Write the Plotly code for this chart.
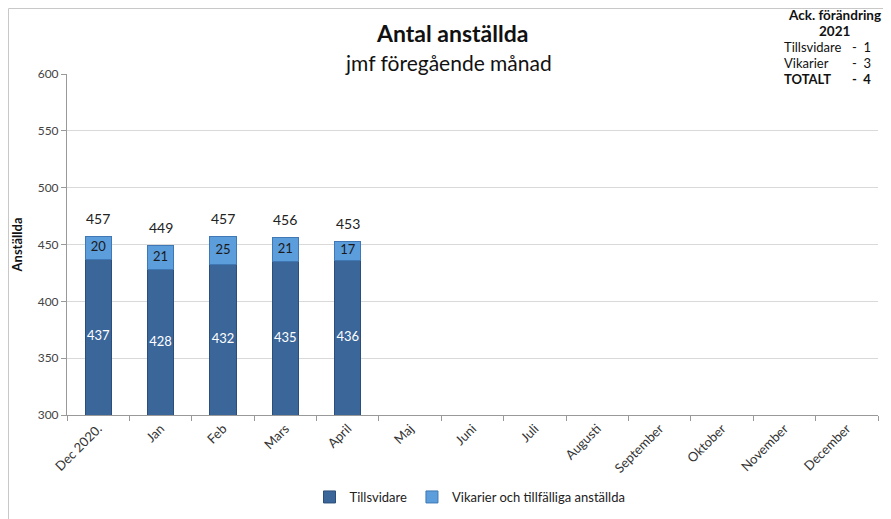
import plotly.graph_objects as go

categories = ["Dec 2020.", "Jan", "Feb", "Mars", "April", "Maj", "Juni", "Juli",
              "Augusti", "September", "Oktober", "November", "December"]
tillsvidare = [437, 428, 432, 435, 436, None, None, None, None, None, None, None, None]
vikarier = [20, 21, 25, 21, 17, None, None, None, None, None, None, None, None]
totals = [457, 449, 457, 456, 453]
y_ticks = [300, 350, 400, 450, 500, 550, 600]

FONT = "Lato, Calibri, 'Open Sans', sans-serif"
DARK = "#3B6699"
LIGHT = "#5C9DDC"

# page has an 8px body margin; lay out in page coordinates
OX, OY = 8, 8
W, H = 891 - OX, 519 - OY
PL, PR, PT, PB = 67, 878, 74, 415          # plot area in page pixels
L, T = PL - OX, PT - OY
R, B = W - (PR - OX), H - (PB - OY)
pw, ph = PR - PL, PB - PT

def px_x(p):
    return (p - PL) / pw

def px_y(p):
    return (PB - p) / ph

fig = go.Figure()
fig.add_trace(go.Bar(x=categories, y=tillsvidare, name="Tillsvidare",
                     marker=dict(color=DARK, line=dict(color="#2B4E7A", width=1)),
                     width=0.42, hoverinfo="skip"))
fig.add_trace(go.Bar(x=categories, y=vikarier, name="Vikarier och tillfälliga anställda",
                     marker=dict(color=LIGHT, line=dict(color="#3F78B5", width=1)),
                     width=0.42, hoverinfo="skip"))

n = len(totals)
ymin = y_ticks[0]
fig.add_trace(go.Scatter(x=categories[:n], y=[(ymin + v) / 2 for v in tillsvidare[:n]],
                         mode="text", text=[str(v) for v in tillsvidare[:n]],
                         textfont=dict(family=FONT, size=13, color="white"),
                         showlegend=False, hoverinfo="skip"))
fig.add_trace(go.Scatter(x=categories[:n], y=[t + v / 2 for t, v in zip(tillsvidare[:n], vikarier[:n])],
                         mode="text", text=[str(v) for v in vikarier[:n]],
                         textfont=dict(family=FONT, size=13, color="#1a1a1a"),
                         showlegend=False, hoverinfo="skip"))
for c, t in zip(categories[:n], totals):
    fig.add_annotation(x=c, y=t, text=str(t), showarrow=False, yshift=18,
                       xanchor="center", yanchor="middle",
                       font=dict(family=FONT, size=14, color="#222"))

def note(x, y, text, size, xanchor="center"):
    fig.add_annotation(xref="paper", yref="paper", x=px_x(x), y=px_y(y), text=text,
                       xanchor=xanchor, yanchor="middle", showarrow=False,
                       font=dict(family=FONT, size=size, color="#111"))

note(452, 33, "<b>Antal anställda</b>", 23)
note(448, 62, "jmf föregående månad", 21)
note(834, 15, "<b>Ack. förändring</b>", 13.5)
note(834, 31, "<b>2021</b>", 13.5)
rows = [("Tillsvidare", "-  1", 47), ("Vikarier", "-  3", 63), ("<b>TOTALT</b>", "<b>-  4</b>", 79)]
for lab, val, yy in rows:
    note(782, yy, lab, 13, "left")
    note(873, yy, val, 13, "right")

fig.add_shape(type="rect", xref="paper", yref="paper", x0=px_x(8.5), x1=px_x(900), y0=px_y(530),
              y1=px_y(8.5), line=dict(color="#c8c8c8", width=1), fillcolor="rgba(0,0,0,0)", layer="below")

fig.update_layout(
    width=W, height=H, barmode="stack", bargap=0.58,
    margin=dict(l=L, r=R, t=T, b=B, autoexpand=False),
    paper_bgcolor="white", plot_bgcolor="white",
    font=dict(family=FONT, size=12, color="#333"),
    legend=dict(orientation="h", x=px_x(470), xanchor="center", y=px_y(497), yanchor="middle",
                font=dict(family=FONT, size=13, color="#222"), traceorder="normal"),
    xaxis=dict(type="category", range=[-0.5, len(categories) - 0.5], tickangle=-45,
               tickson="boundaries", ticks="outside", ticklen=5,
               tickcolor="#999", showline=True, linecolor="#999", showgrid=False, automargin=False,
               tickfont=dict(family=FONT, size=13, color="#333"), fixedrange=True),
    yaxis=dict(range=[300, 600], tickvals=y_ticks, ticks="outside", ticklen=5, tickcolor="#999",
               showline=True, linecolor="#999", showgrid=True, gridcolor="#d9d9d9", automargin=False,
               tickfont=dict(family=FONT, size=12, color="#444"),
               title=dict(text="<b>Anställda</b>", font=dict(family=FONT, size=13, color="#111"), standoff=12),
               fixedrange=True),
)
fig.write_html("out.html")
